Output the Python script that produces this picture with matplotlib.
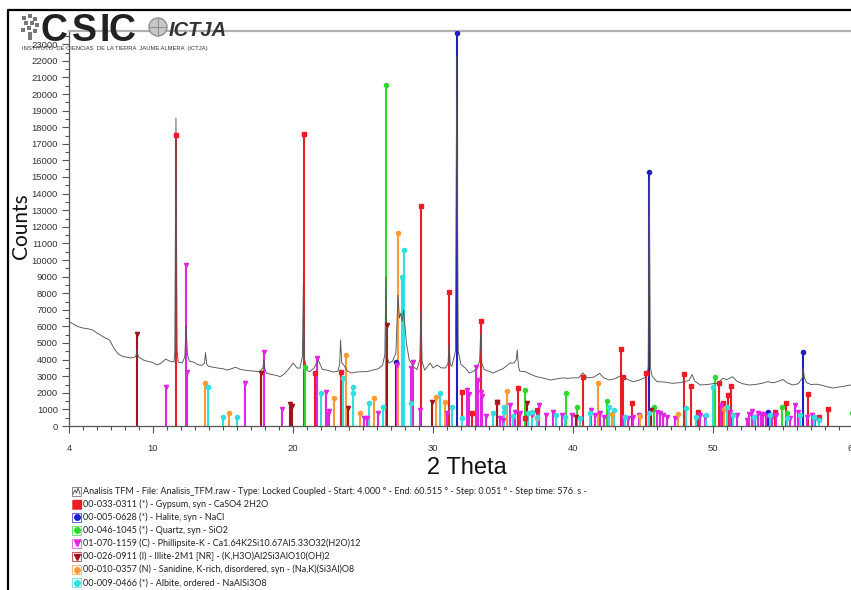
import matplotlib.pyplot as plt
from matplotlib.patches import Rectangle, Circle
from matplotlib.ticker import MultipleLocator, FixedLocator

# -----------------------------
# Measured pattern (2 Theta, Counts)
# -----------------------------
meas_2theta = [
    4.0, 4.3, 4.6, 5.0, 5.4, 5.7, 6.0, 6.3, 6.6, 6.9, 7.2, 7.5, 7.8, 8.1, 8.4, 8.7,
    8.78, 8.85, 8.93, 9.0, 9.3, 9.6, 9.9, 10.3, 10.6, 10.9, 11.2, 11.5, 11.56, 11.64,
    11.72, 11.8, 12.1, 12.28, 12.36, 12.46, 12.6, 12.9, 13.2, 13.5, 13.68, 13.75, 13.83,
    13.95, 14.3, 14.7, 15.0, 15.3, 15.6, 15.9, 16.2, 16.5, 16.9, 17.3, 17.6, 17.85, 17.92,
    18.0, 18.1, 18.5, 18.8, 19.1, 19.4, 19.8, 20.0, 20.3, 20.5, 20.67, 20.75, 20.83, 21.0,
    21.2, 21.5, 21.8, 22.1, 22.4, 22.7, 22.9, 23.2, 23.33, 23.4, 23.48, 23.6, 23.9, 24.2,
    24.5, 24.8, 25.1, 25.4, 25.7, 26.1, 26.4, 26.56, 26.64, 26.72, 26.85, 27.1, 27.35,
    27.5, 27.6, 27.7, 27.8, 27.9, 28.1, 28.3, 28.6, 28.85, 29.06, 29.14, 29.22, 29.4,
    29.8, 30.0, 30.3, 30.6, 30.9, 31.08, 31.15, 31.23, 31.35, 31.6, 31.7, 31.8, 32.0,
    32.3, 32.6, 32.9, 33.15, 33.33, 33.4, 33.48, 33.65, 34.0, 34.3, 34.7, 35.0, 35.5,
    35.8, 35.95, 36.02, 36.1, 36.2, 36.6, 37.0, 37.4, 37.8, 38.4, 38.9, 39.3, 39.6,
    40.0, 40.4, 40.7, 41.0, 41.5, 41.9, 42.2, 42.6, 43.0, 43.5, 43.9, 44.3, 44.7, 45.1,
    45.3, 45.37, 45.45, 45.53, 45.65, 46.0, 46.5, 47.1, 47.5, 47.9, 48.3, 48.5, 48.7,
    49.1, 49.6, 50.0, 50.3, 50.7, 51.0, 51.4, 51.7, 52.1, 52.6, 53.0, 53.5, 53.9, 54.3,
    54.7, 55.0, 55.3, 55.7, 56.1, 56.38, 56.45, 56.52, 56.7, 57.0, 57.4, 57.8, 58.2,
    58.6, 59.0, 59.4, 59.8, 60.2, 60.515,
]
meas_counts = [
    6280, 6150, 6000, 5900, 5850, 5780, 5600, 5450, 5300, 5180, 4700, 4350, 4200, 4150, 4100, 4150,
    4200, 4580, 4250, 4150, 3980, 3900, 3850, 3680, 3800, 4030, 3900, 3860, 4500, 18550,
    4600, 3850, 3800, 4200, 6080, 4300, 3900, 3850, 3700, 3650, 3800, 4420, 3750,
    3600, 3540, 3480, 3450, 3370, 3450, 3540, 3420, 3370, 3330, 3300, 3270, 3500, 3980,
    3400, 3190, 3100, 3050, 2970, 3150, 3540, 3790, 3490, 3490, 4200, 9000, 4000, 3350,
    3270, 3500, 3980, 3400, 3370, 3300, 3250, 3300, 3700, 5180, 3800, 3700, 3300, 3190,
    3250, 3270, 3270, 3300, 3370, 3450, 3670, 4300, 8990, 4200, 3790, 3900, 4390,
    7890, 6500, 6800, 6300, 6990, 5000, 4000, 3570, 3400, 4000, 7000, 3900, 3370,
    3790, 3500, 3670, 3500, 3500, 3800, 5000, 3700, 3600, 4500, 22300, 4500, 3700,
    3500, 3190, 3300, 3500, 3900, 5500, 3800, 3400, 3300, 3190, 3350, 3450, 3790,
    3800, 4000, 4580, 3600, 3300, 3270, 3100, 2970, 2900, 2770, 2850, 2900, 2870,
    2900, 2900, 3200, 2900, 2950, 3170, 2900, 2770, 2850, 3070, 2800, 2670, 2750, 2900,
    3100, 3600, 14800, 3500, 3000, 2670, 2650, 2570, 2600, 2650, 2750, 3100, 2700,
    2470, 2500, 2550, 2570, 2870, 2800, 2970, 2700, 2550, 2470, 2500, 2570, 2670, 2600,
    2700, 2800, 2600, 2470, 2550, 2900, 3500, 2900, 2600, 2500, 2520, 2450, 2350,
    2290, 2350, 2400, 2470, 2450, 2450,
]

# -----------------------------
# Reference patterns (stick positions / heights)
# -----------------------------
gypsum_2theta = [11.64, 20.75, 21.6, 23.4, 29.14, 31.15, 32.1, 32.8, 33.4, 34.6, 36.1,
                 36.55, 37.4, 40.7, 43.4, 43.6, 44.2, 45.2, 47.9, 48.4, 48.9, 50.4, 50.7,
                 51.1, 51.3, 54.4, 55.2, 56.8, 57.6, 58.2]
gypsum_counts = [17530, 17590, 3190, 3270, 13250, 8070, 2070, 780, 6330, 1440, 2290,
                 480, 960, 2970, 4640, 2970, 1380, 3190, 3130, 2410, 860, 2590, 1380,
                 1870, 2410, 860, 1380, 1930, 540, 1020]

halite_2theta = [27.37, 31.7, 45.45, 53.9, 56.45]
halite_counts = [3870, 23670, 15300, 860, 4460]

quartz_2theta = [20.86, 26.64, 36.55, 39.5, 40.3, 42.45, 45.8, 50.15, 54.9, 55.3, 59.95]
quartz_counts = [3570, 20540, 2170, 1990, 1160, 1530, 1160, 2970, 1160, 800, 800]

phill_2theta = [10.95, 12.36, 12.46, 16.55, 17.93, 19.2, 21.72, 22.35, 22.5, 22.6, 25.1,
                25.25, 26.1, 27.42, 28.45, 28.55, 29.1, 31.0, 32.4, 32.55, 33.1, 33.2,
                33.45, 33.5, 33.8, 34.8, 35.0, 35.5, 35.86, 36.2, 37.05, 37.6, 38.1,
                38.6, 39.2, 39.9, 41.3, 41.6, 41.9, 42.2, 43.6, 43.95, 44.3, 44.7, 45.98,
                46.2, 46.45, 46.7, 47.3, 49.07, 49.4, 50.6, 51.2, 51.7, 52.4, 52.6, 52.8,
                53.0, 53.2, 53.4, 53.6, 53.8, 54.2, 54.5, 55.5, 55.86, 56.1, 56.7, 57.05,
                57.3]
phill_counts = [2350, 9700, 3250, 2610, 4480, 1020, 4100, 2070, 700, 900, 480,
                480, 780, 3700, 3500, 3870, 960, 780, 2170, 1900, 3570, 2770,
                2070, 1800, 630, 480, 360, 1260, 860, 760, 660, 1260, 660,
                860, 660, 660, 960, 660, 760, 560, 560, 460, 560, 660, 860,
                760, 660, 560, 460, 660, 560, 1260, 860, 660, 360, 700, 900,
                560, 800, 650, 700, 600, 560, 660, 460, 1260, 860, 560, 660,
                460]

illite_2theta = [8.85, 17.7, 19.8, 19.95, 23.95, 26.7, 29.9, 34.55, 36.7, 40.2, 45.6]
illite_counts = [5540, 3190, 1320, 1200, 1080, 6080, 1460, 1440, 1380, 540, 960]

sanidine_2theta = [13.7, 15.4, 22.9, 23.75, 24.8, 25.8, 27.5, 30.2, 30.85, 35.27, 37.4,
                   41.8, 42.8, 44.8, 47.5, 50.8]
sanidine_counts = [2590, 780, 1690, 4280, 780, 1690, 11630, 1750, 1460, 2130, 480,
                   2610, 700, 600, 700, 1000]

albite_2theta = [13.9, 15.0, 16.0, 22.0, 23.6, 24.25, 24.32, 25.4, 26.4, 27.8, 27.93,
                 28.4, 30.5, 31.35, 32.1, 34.3, 35.05, 35.1, 35.7, 36.8, 37.1, 37.4,
                 38.8, 39.4, 40.5, 41.2, 42.6, 42.9, 43.7, 45.4, 48.1, 48.8, 49.5, 50.0,
                 50.98, 51.45, 52.9, 54.07, 55.3, 56.2, 57.2, 57.6]
albite_counts = [2370, 560, 560, 1990, 2890, 2370, 1990, 1380, 1160, 8990, 10600,
                 1380, 1990, 1160, 500, 800, 1160, 860, 620, 760, 860, 560,
                 660, 560, 460, 760, 1160, 960, 560, 760, 1060, 560, 660, 2350,
                 1160, 660, 560, 660, 460, 660, 560, 360]

legend_labels = [
    "Analisis TFM - File: Analisis_TFM.raw - Type: Locked Coupled - Start: 4.000 \u00b0 - "
    "End: 60.515 \u00b0 - Step: 0.051 \u00b0 - Step time: 576. s -",
    "00-033-0311 (*) - Gypsum, syn - CaSO4 2H2O",
    "00-005-0628 (*) - Halite, syn - NaCl",
    "00-046-1045 (*) - Quartz, syn - SiO2",
    "01-070-1159 (C) - Phillipsite-K - Ca1.64K2Si10.67Al5.33O32(H2O)12",
    "00-026-0911 (I) - Illite-2M1 [NR] - (K,H3O)Al2Si3AlO10(OH)2",
    "00-010-0357 (N) - Sanidine, K-rich, disordered, syn - (Na,K)(Si3Al)O8",
    "00-009-0466 (*) - Albite, ordered - NaAlSi3O8",
]

phases = [
    (gypsum_2theta, gypsum_counts, "#ec1c24", "s"),
    (halite_2theta, halite_counts, "#1f1fc8", "o"),
    (quartz_2theta, quartz_counts, "#2fd82f", "o"),
    (phill_2theta, phill_counts, "#e026e0", "v"),
    (illite_2theta, illite_counts, "#a0141c", "v"),
    (sanidine_2theta, sanidine_counts, "#ff9a3a", "o"),
    (albite_2theta, albite_counts, "#33dede", "o"),
]

narrow = ["Liberation Sans Narrow", "Liberation Sans", "DejaVu Sans"]

W, H = 851, 590
fig = plt.figure(figsize=(W / 100, H / 100), dpi=100)

x0, x1 = 4.0, 60.515
px_per_deg = 14.0
y_zero, y_top = 426, 31
ymax = (y_zero - y_top) / 16.6 * 1000

ax = fig.add_axes([69 / W, (H - y_zero) / H,
                   (x1 - x0) * px_per_deg / W, (y_zero - y_top) / H])

for tt, cc, col, mk in phases:
    ax.vlines(tt, 0, cc, colors=col, lw=1.5, zorder=2)
    ax.plot(tt, cc, ls="none", marker=mk, ms=3.0, color=col, mec=col, zorder=4)

ax.plot(meas_2theta, meas_counts, color="#555555", lw=0.65, zorder=3)

ax.set_xlim(x0, x1)
ax.set_ylim(0, ymax)
ax.xaxis.set_major_locator(FixedLocator([4, 10, 20, 30, 40, 50, 60]))
ax.xaxis.set_minor_locator(MultipleLocator(1))
ax.yaxis.set_major_locator(MultipleLocator(1000))
ax.yaxis.set_minor_locator(MultipleLocator(500))
ax.tick_params(axis="both", which="major", direction="out", length=5, width=0.8,
               color="#555555", labelsize=6.8, labelcolor="#333333", pad=3)
ax.tick_params(axis="both", which="minor", direction="out", length=3, width=0.8,
               color="#555555")
ax.tick_params(axis="x", which="major", pad=8)
for lab in ax.get_xticklabels() + ax.get_yticklabels():
    lab.set_family(narrow)

ax.spines["right"].set_visible(False)
ax.spines["top"].set_color("#b0b0b0")
ax.spines["top"].set_linewidth(1.6)
for s in ("left", "bottom"):
    ax.spines[s].set_color("#555555")
    ax.spines[s].set_linewidth(0.9)

# -----------------------------
# Overlay in pixel coordinates: frame, logo, axis titles, legend
# -----------------------------
ov = fig.add_axes([0, 0, 1, 1], zorder=10)
ov.set_xlim(0, W)
ov.set_ylim(H, 0)
ov.axis("off")
ov.patch.set_alpha(0)

ov.plot([8, 8, W + 5], [H + 5, 10, 10], color="black", lw=1.6)

# logo
for dx, dy in [(22, 16), (28, 14), (33, 17), (24, 21), (30, 21), (35, 23),
               (27, 26), (21, 28), (33, 29), (28, 32), (28, 36)]:
    ov.add_patch(Rectangle((dx, dy), 4, 4, color="#777777", lw=0))
for ch, cx in zip("CSIC", [41, 72, 99, 109]):
    ov.text(cx, 41, ch, fontsize=27, fontweight="bold", family="Liberation Sans",
            color="#222222", va="baseline")
ov.add_patch(Circle((158, 27), 9, facecolor="#c8c8c8", edgecolor="#909090", lw=1))
ov.plot([150, 166], [27, 27], color="#909090", lw=0.8)
ov.plot([158, 158], [18, 36], color="#909090", lw=0.8)
ov.text(169, 36, "ICTJA", fontsize=14.5, fontweight="bold", style="italic",
        family="Liberation Sans", color="#333333", va="baseline")
ov.text(22, 50, "INSTITUTO  DE CIENCIAS  DE LA TIERRA  JAUME ALMERA  (ICTJA)",
        fontsize=4.2, color="#333333", va="baseline", family="Liberation Sans")

# axis titles
ov.text(21, 226, "Counts", rotation=90, fontsize=15, family="Lato",
        ha="center", va="center", color="#111111")
ov.text(467, 468, "2 Theta", fontsize=17, family=narrow,
        ha="center", va="center", color="#111111")

# legend
leg_y0, leg_dy = 491, 13.1
for i, label in enumerate(legend_labels):
    yy = leg_y0 + i * leg_dy
    if i == 0:
        ov.add_patch(Rectangle((72, yy - 4.5), 9, 9, facecolor="white",
                               edgecolor="#777777", lw=0.6))
        ov.plot([73, 75, 76.5, 78, 80], [yy + 3, yy - 1, yy + 2, yy - 3, yy + 3],
                color="#444444", lw=0.6)
    else:
        tt, cc, col, mk = phases[i - 1]
        ov.add_patch(Rectangle((72, yy - 4.5), 9, 9, facecolor="white",
                               edgecolor=col, lw=0.6, alpha=0.8))
        ms = 5.5 if mk == "s" else 4
        ov.plot([76.5], [yy], ls="none", marker=mk, ms=ms, color=col, mec=col)
    ov.text(83, yy, label, fontsize=6.5, family="Lato", va="center",
            color="#222222")

fig.savefig("out.png", dpi=100)
